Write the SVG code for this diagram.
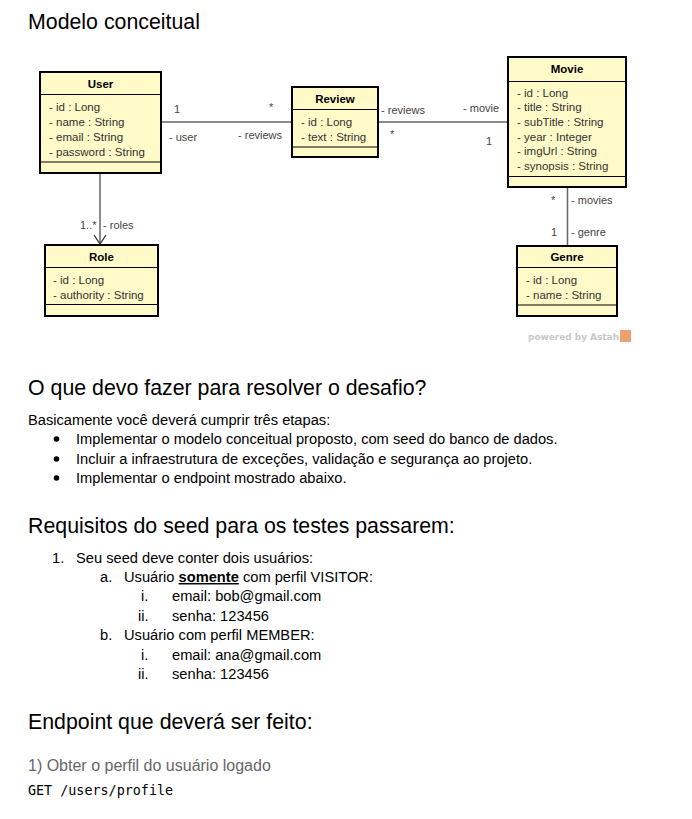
<svg xmlns="http://www.w3.org/2000/svg" width="692" height="819" viewBox="0 0 692 819">
<style>
.box{fill:#fffac8;stroke:#000;stroke-width:2}
.sep{stroke:#000;stroke-width:1}
.t{font-family:"Liberation Sans",Arial,sans-serif;font-size:11.5px;font-weight:bold;fill:#000;text-anchor:middle}
.a{font-family:"Liberation Sans",Arial,sans-serif;font-size:11.5px;fill:#333}
.l{font-family:"Liberation Sans",Arial,sans-serif;font-size:11px;fill:#444}
.c{stroke:#666;stroke-width:1.5;fill:none}
.h{font-family:"Liberation Sans",Arial,sans-serif;font-size:21.33px;fill:#000}
.b{font-family:"Liberation Sans",Arial,sans-serif;font-size:14.67px;fill:#000}
</style>
<rect width="692" height="819" fill="#fff"/>
<text class="h" x="28" y="29">Modelo conceitual</text>

<g id="connectors">
<line class="c" x1="161" y1="122" x2="292" y2="122"/>
<line class="c" x1="378" y1="122" x2="508" y2="122"/>
<line class="c" x1="100" y1="173" x2="100" y2="244" stroke="#333"/>
<polyline fill="none" stroke="#333" stroke-width="1.3" points="94,235 100,244 106,235"/>
<line class="c" x1="567.5" y1="188" x2="567.5" y2="246" stroke="#333"/>
<text class="l" x="174" y="113">1</text>
<text class="l" x="269" y="111">*</text>
<text class="l" x="169" y="141">- user</text>
<text class="l" x="238" y="139">- reviews</text>
<text class="l" x="381" y="114">- reviews</text>
<text class="l" x="463" y="112">- movie</text>
<text class="l" x="390" y="138">*</text>
<text class="l" x="486" y="145">1</text>
<text class="l" x="80" y="229">1..*</text>
<text class="l" x="103" y="229">- roles</text>
<text class="l" x="551" y="204">*</text>
<text class="l" x="571" y="204">- movies</text>
<text class="l" x="551" y="236">1</text>
<text class="l" x="571" y="236">- genre</text>
</g>

<g id="user">
<rect class="box" x="40" y="72" width="121" height="101"/>
<line class="sep" x1="40" y1="94.5" x2="161" y2="94.5"/>
<line class="sep" x1="40" y1="162" x2="161" y2="162"/>
<text class="t" x="100.5" y="88">User</text>
<text class="a" x="49" y="111">- id : Long</text>
<text class="a" x="49" y="126">- name : String</text>
<text class="a" x="49" y="141">- email : String</text>
<text class="a" x="49" y="156">- password : String</text>
</g>

<g id="review">
<rect class="box" x="292" y="87" width="86" height="70"/>
<line class="sep" x1="292" y1="109.5" x2="378" y2="109.5"/>
<line class="sep" x1="292" y1="147" x2="378" y2="147"/>
<text class="t" x="335" y="103">Review</text>
<text class="a" x="301" y="126">- id : Long</text>
<text class="a" x="301" y="141">- text : String</text>
</g>

<g id="movie">
<rect class="box" x="508" y="57" width="118" height="130"/>
<line class="sep" x1="508" y1="81.5" x2="626" y2="81.5"/>
<line class="sep" x1="508" y1="176.5" x2="626" y2="176.5"/>
<text class="t" x="567" y="73">Movie</text>
<text class="a" x="517" y="97">- id : Long</text>
<text class="a" x="517" y="111">- title : String</text>
<text class="a" x="517" y="126">- subTitle : String</text>
<text class="a" x="517" y="141">- year : Integer</text>
<text class="a" x="517" y="155">- imgUrl : String</text>
<text class="a" x="517" y="170">- synopsis : String</text>
</g>

<g id="role">
<rect class="box" x="45" y="245" width="113" height="71"/>
<line class="sep" x1="45" y1="267.5" x2="158" y2="267.5"/>
<line class="sep" x1="45" y1="304.5" x2="158" y2="304.5"/>
<text class="t" x="101.5" y="261">Role</text>
<text class="a" x="53" y="284">- id : Long</text>
<text class="a" x="53" y="299">- authority : String</text>
</g>

<g id="genre">
<rect class="box" x="517" y="246" width="100" height="70"/>
<line class="sep" x1="517" y1="267.5" x2="617" y2="267.5"/>
<line class="sep" x1="517" y1="305" x2="617" y2="305"/>
<text class="t" x="567" y="261">Genre</text>
<text class="a" x="526" y="284">- id : Long</text>
<text class="a" x="526" y="299">- name : String</text>
</g>

<g id="astah">
<text x="528" y="340" font-family="'DejaVu Sans',sans-serif" font-size="9" font-weight="bold" fill="#c8c8c8" textLength="91" lengthAdjust="spacingAndGlyphs">powered by Astah</text>
<rect x="620" y="330" width="11" height="12" fill="#f0a070"/>
</g>

<text class="h" x="28" y="395">O que devo fazer para resolver o desafio?</text>
<text class="b" x="28" y="425">Basicamente você deverá cumprir três etapas:</text>
<circle cx="56.5" cy="439" r="2.8" fill="#000"/>
<circle cx="56.5" cy="459" r="2.8" fill="#000"/>
<circle cx="56.5" cy="478" r="2.8" fill="#000"/>
<text class="b" x="76" y="444">Implementar o modelo conceitual proposto, com seed do banco de dados.</text>
<text class="b" x="76" y="464">Incluir a infraestrutura de exceções, validação e segurança ao projeto.</text>
<text class="b" x="76" y="483">Implementar o endpoint mostrado abaixo.</text>

<text class="h" x="28" y="533">Requisitos do seed para os testes passarem:</text>
<text class="b" x="52" y="563">1.</text>
<text class="b" x="76" y="563">Seu seed deve conter dois usuários:</text>
<text class="b" x="100" y="582">a.</text>
<text class="b" x="124" y="582">Usuário <tspan font-weight="bold" text-decoration="underline">somente</tspan> com perfil VISITOR:</text>
<text class="b" x="141" y="601">i.</text>
<text class="b" x="172" y="601">email: bob@gmail.com</text>
<text class="b" x="138" y="621">ii.</text>
<text class="b" x="172" y="621">senha: 123456</text>
<text class="b" x="100" y="640">b.</text>
<text class="b" x="124" y="640">Usuário com perfil MEMBER:</text>
<text class="b" x="141" y="660">i.</text>
<text class="b" x="172" y="660">email: ana@gmail.com</text>
<text class="b" x="138" y="679">ii.</text>
<text class="b" x="172" y="679">senha: 123456</text>

<text class="h" x="28" y="729">Endpoint que deverá ser feito:</text>
<text class="b" x="28" y="771" style="font-size:16px;fill:#666">1) Obter o perfil do usuário logado</text>
<text x="28" y="795" font-family="'DejaVu Sans Mono','Liberation Mono',monospace" font-size="13.4" fill="#000">GET /users/profile</text>
</svg>
